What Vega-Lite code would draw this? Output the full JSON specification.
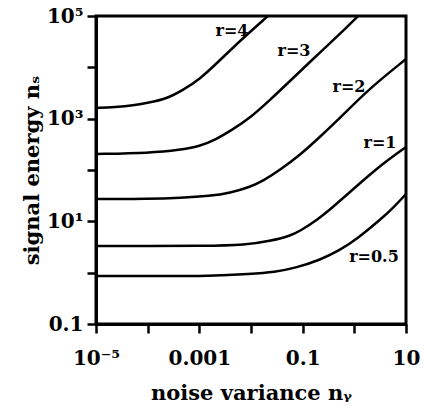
{
  "$schema": "https://vega.github.io/schema/vega-lite/v6.json",
  "width": 310,
  "height": 308,
  "autosize": {"type": "none"},
  "padding": {"left": 96, "top": 16, "right": 18, "bottom": 90},
  "background": "white",
  "config": {
    "view": {"stroke": "black", "strokeWidth": 3},
    "font": "DejaVu Serif",
    "axis": {
      "grid": false,
      "domainColor": "black",
      "domainWidth": 3,
      "tickColor": "black",
      "tickWidth": 2.5,
      "tickSize": 9,
      "labelFont": "DejaVu Serif",
      "labelFontWeight": "bold",
      "labelFontSize": 20,
      "labelColor": "black",
      "labelOverlap": false,
      "titleFont": "DejaVu Serif",
      "titleFontWeight": "bold",
      "titleFontSize": 21,
      "titleColor": "black"
    }
  },
  "datasets": {
    "curves": [
      {"r": "r=4", "x": 0.00001, "y": 1614},
      {"r": "r=4", "x": 0.0000233, "y": 1687},
      {"r": "r=4", "x": 0.000052, "y": 1803},
      {"r": "r=4", "x": 0.000111, "y": 2065},
      {"r": "r=4", "x": 0.000237, "y": 2472},
      {"r": "r=4", "x": 0.000483, "y": 3614},
      {"r": "r=4", "x": 0.00103, "y": 5929},
      {"r": "r=4", "x": 0.0022, "y": 12130},
      {"r": "r=4", "x": 0.007, "y": 37240},
      {"r": "r=4", "x": 0.0213, "y": 100000},
      {"r": "r=3", "x": 0.00001, "y": 205},
      {"r": "r=3", "x": 0.000111, "y": 214},
      {"r": "r=3", "x": 0.000423, "y": 245},
      {"r": "r=3", "x": 0.00103, "y": 293},
      {"r": "r=3", "x": 0.00201, "y": 384},
      {"r": "r=3", "x": 0.00428, "y": 601},
      {"r": "r=3", "x": 0.00955, "y": 1030},
      {"r": "r=3", "x": 0.0233, "y": 2310},
      {"r": "r=3", "x": 0.0569, "y": 5420},
      {"r": "r=3", "x": 0.158, "y": 14500},
      {"r": "r=3", "x": 0.527, "y": 44600},
      {"r": "r=3", "x": 1.18, "y": 100000},
      {"r": "r=2", "x": 0.00001, "y": 27.2},
      {"r": "r=2", "x": 0.000111, "y": 27.2},
      {"r": "r=2", "x": 0.000423, "y": 28.5},
      {"r": "r=2", "x": 0.00161, "y": 31.1},
      {"r": "r=2", "x": 0.00392, "y": 35.6},
      {"r": "r=2", "x": 0.00955, "y": 46.7},
      {"r": "r=2", "x": 0.0171, "y": 61.1},
      {"r": "r=2", "x": 0.0364, "y": 100},
      {"r": "r=2", "x": 0.0888, "y": 196},
      {"r": "r=2", "x": 0.216, "y": 439},
      {"r": "r=2", "x": 0.659, "y": 1290},
      {"r": "r=2", "x": 2.01, "y": 3950},
      {"r": "r=2", "x": 10, "y": 14500},
      {"r": "r=1", "x": 0.00001, "y": 3.3},
      {"r": "r=1", "x": 0.000111, "y": 3.3},
      {"r": "r=1", "x": 0.00103, "y": 3.3},
      {"r": "r=1", "x": 0.00836, "y": 3.46},
      {"r": "r=1", "x": 0.0233, "y": 4.14},
      {"r": "r=1", "x": 0.0569, "y": 5.18},
      {"r": "r=1", "x": 0.0888, "y": 6.47},
      {"r": "r=1", "x": 0.189, "y": 10.6},
      {"r": "r=1", "x": 0.386, "y": 19.0},
      {"r": "r=1", "x": 0.824, "y": 37.2},
      {"r": "r=1", "x": 1.76, "y": 72.9},
      {"r": "r=1", "x": 3.92, "y": 143},
      {"r": "r=1", "x": 10, "y": 281},
      {"r": "r=0.5", "x": 0.00001, "y": 0.861},
      {"r": "r=0.5", "x": 0.000111, "y": 0.861},
      {"r": "r=0.5", "x": 0.00176, "y": 0.861},
      {"r": "r=0.5", "x": 0.00955, "y": 0.942},
      {"r": "r=0.5", "x": 0.0291, "y": 1.03},
      {"r": "r=0.5", "x": 0.071, "y": 1.23},
      {"r": "r=0.5", "x": 0.216, "y": 1.76},
      {"r": "r=0.5", "x": 0.527, "y": 2.76},
      {"r": "r=0.5", "x": 1.12, "y": 4.53},
      {"r": "r=0.5", "x": 3.13, "y": 10.6},
      {"r": "r=0.5", "x": 5.85, "y": 19.0},
      {"r": "r=0.5", "x": 10, "y": 34.0}
    ],
    "labels": [
      {"text": "r=4", "x": 0.00428, "y": 51000},
      {"text": "r=3", "x": 0.0679, "y": 20800},
      {"text": "r=2", "x": 0.789, "y": 4140},
      {"text": "r=1", "x": 3.13, "y": 336},
      {"text": "r=0.5", "x": 2.4, "y": 2.02}
    ]
  },
  "layer": [
    {
      "data": {"name": "curves"},
      "mark": {"type": "line", "color": "black", "strokeWidth": 2.5, "interpolate": "basis", "clip": true},
      "encoding": {
        "x": {
          "field": "x", "type": "quantitative",
          "scale": {"type": "log", "domain": [0.00001, 10], "nice": false},
          "axis": {
            "title": "noise variance nᵧ",
            "values": [0.00001, 0.0001, 0.001, 0.01, 0.1, 1, 10],
            "labelFlush": false,
            "labelPadding": 15,
            "titlePadding": 14,
            "labelExpr": "datum.value < 0.00002 ? '10⁻⁵' : (datum.value > 0.0005 && datum.value < 0.002) ? '0.001' : (datum.value > 0.05 && datum.value < 0.2) ? '0.1' : datum.value > 5 ? '10' : ''"
          }
        },
        "y": {
          "field": "y", "type": "quantitative",
          "scale": {"type": "log", "domain": [0.1, 100000], "nice": false},
          "axis": {
            "title": "signal energy nₛ",
            "values": [0.1, 1, 10, 100, 1000, 10000, 100000],
            "labelPadding": 4,
            "titlePadding": 4,
            "labelFlush": false,
            "labelExpr": "datum.value < 0.2 ? '0.1' : (datum.value > 5 && datum.value < 20) ? '10¹' : (datum.value > 500 && datum.value < 2000) ? '10³' : datum.value > 50000 ? '10⁵' : ''"
          }
        },
        "detail": {"field": "r"}
      }
    },
    {
      "data": {"name": "labels"},
      "mark": {"type": "text", "font": "DejaVu Serif", "fontWeight": "bold", "fontSize": 16, "color": "black", "align": "center", "baseline": "middle"},
      "encoding": {
        "x": {"field": "x", "type": "quantitative"},
        "y": {"field": "y", "type": "quantitative"},
        "text": {"field": "text"}
      }
    }
  ]
}
